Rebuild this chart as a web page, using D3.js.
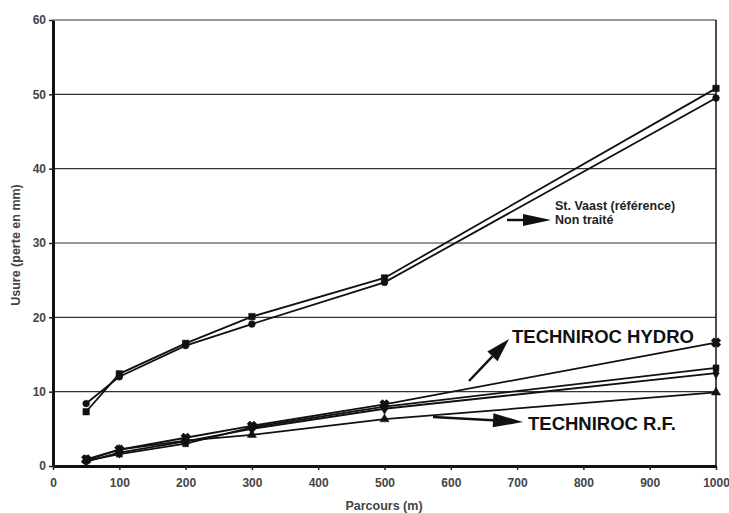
<!DOCTYPE html>
<html lang="fr">
<head>
  <meta charset="UTF-8">
  <title>Usure</title>
  <style>
    body { margin:0; background:#fff; }
    svg { display:block; }
    text { font-family: "Liberation Sans", Arial, sans-serif; }
  </style>
</head>
<body>
  <svg id="chart" width="729" height="513"></svg>
  <script src="https://d3js.org/d3.v7.min.js"></script>
  <script>
    // distances (m)
    const distances = [50, 100, 200, 300, 500, 1000];
    // wear (mm) per series
    const stVaast   = [7.3, 12.4, 16.5, 20.1, 25.3, 50.8];
    const nonTraite = [8.4, 12.0, 16.2, 19.1, 24.7, 49.5];
    const hydro     = [0.9, 2.2, 3.8, 5.4, 8.3, 16.6];
    const hydroB    = [0.7, 1.6, 3.0, 5.2, 8.0, 13.2];
    const hydroC    = [0.6, 1.8, 3.3, 5.0, 7.7, 12.5];
    const rf        = [0.8, 2.2, 3.4, 4.2, 6.3, 9.9];
    const xTicks = [0, 100, 200, 300, 400, 500, 600, 700, 800, 900, 1000];
    const yTicks = [0, 10, 20, 30, 40, 50, 60];

    const series = [
      { vals: stVaast, sym: d3.symbolSquare, size: 42 },
      { vals: nonTraite, sym: d3.symbolCircle, size: 36 },
      { vals: hydro, sym: d3.symbolCross, size: 40, rot: 45 },
      { vals: hydroB, sym: d3.symbolSquare, size: 36 },
      { vals: hydroC, sym: d3.symbolDiamond, size: 36 },
      { vals: rf, sym: d3.symbolTriangle, size: 36 }
    ];

    const svg = d3.select('#chart');
    const L = 53, R = 716, T = 20, B = 466;
    const x = d3.scaleLinear().domain([0, 1000]).range([L, R]);
    const y = d3.scaleLinear().domain([0, 60]).range([B, T]);

    // grid
    svg.append('g').selectAll('line').data(yTicks.slice(1)).join('line')
      .attr('x1', L).attr('x2', R).attr('y1', d => y(d)).attr('y2', d => y(d))
      .attr('stroke', '#333').attr('stroke-width', 1.2);
    // right border
    svg.append('line').attr('x1', R).attr('x2', R).attr('y1', T).attr('y2', B)
      .attr('stroke', '#111').attr('stroke-width', 1.5);

    const xAxis = svg.append('g').attr('transform', `translate(0,${B})`)
      .call(d3.axisBottom(x).tickValues(xTicks).tickFormat(d3.format('d'))
        .tickSize(4).tickPadding(8).tickSizeOuter(0));
    const yAxis = svg.append('g').attr('transform', `translate(${L},0)`)
      .call(d3.axisLeft(y).tickValues(yTicks).tickSize(4).tickPadding(3).tickSizeOuter(0));
    [xAxis, yAxis].forEach(a => {
      a.select('.domain').attr('stroke', '#111').attr('stroke-width', 3);
      a.selectAll('.tick line').attr('stroke', '#222').attr('stroke-width', 1.5);
      a.selectAll('.tick text').attr('font-weight', 'bold').attr('fill', '#444').attr('font-size', 12);
    });

    // lines
    const line = d3.line().x((d, i) => x(distances[i])).y(d => y(d));
    series.forEach(s => {
      svg.append('path').datum(s.vals).attr('d', line)
        .attr('fill', 'none').attr('stroke', '#111').attr('stroke-width', 1.8);
    });
    series.forEach(s => {
      svg.append('g').selectAll('path').data(s.vals).join('path')
        .attr('d', d3.symbol().type(s.sym).size(s.size))
        .attr('transform', (d, i) => `translate(${x(distances[i])},${y(d)}) rotate(${s.rot || 0})`)
        .attr('fill', '#111').attr('stroke', '#111').attr('stroke-width', s.rot ? 1.5 : 0.5);
    });

    // axis titles
    svg.append('text').attr('x', 384).attr('y', 510).attr('text-anchor', 'middle')
      .attr('font-weight', 'bold').attr('font-size', 12.5).attr('fill', '#444').text('Parcours (m)');
    svg.append('text').attr('transform', 'translate(20,245) rotate(-90)').attr('text-anchor', 'middle')
      .attr('font-weight', 'bold').attr('font-size', 12.5).attr('fill', '#444').text('Usure (perte en mm)');

    // annotation arrows: shaft + filled head
    function arrow(x1, y1, x2, y2, len, half) {
      const a = Math.atan2(y2 - y1, x2 - x1);
      const bx = x2 - len * Math.cos(a), by = y2 - len * Math.sin(a);
      const px = -Math.sin(a) * half, py = Math.cos(a) * half;
      svg.append('line').attr('x1', x1).attr('y1', y1).attr('x2', bx).attr('y2', by)
        .attr('stroke', '#111').attr('stroke-width', 2.5);
      svg.append('path')
        .attr('d', `M${x2},${y2}L${bx + px},${by + py}L${bx - px},${by - py}Z`)
        .attr('fill', '#111');
    }
    arrow(507, 220, 551, 220, 28, 6);
    arrow(469, 381, 509, 339, 24, 7);
    arrow(433, 417, 523, 422, 30, 7);

    svg.append('text').attr('x', 555).attr('y', 210).attr('font-weight', 'bold')
      .attr('font-size', 12.5).attr('fill', '#222').text('St. Vaast (référence)');
    svg.append('text').attr('x', 555).attr('y', 224).attr('font-weight', 'bold')
      .attr('font-size', 12.5).attr('fill', '#222').text('Non traité');
    svg.append('text').attr('x', 512).attr('y', 343).attr('font-weight', 'bold')
      .attr('font-size', 18.5).attr('fill', '#111').text('TECHNIROC HYDRO');
    svg.append('text').attr('x', 528).attr('y', 430).attr('font-weight', 'bold')
      .attr('font-size', 18.5).attr('fill', '#111').text('TECHNIROC R.F.');
  </script>
</body>
</html>
